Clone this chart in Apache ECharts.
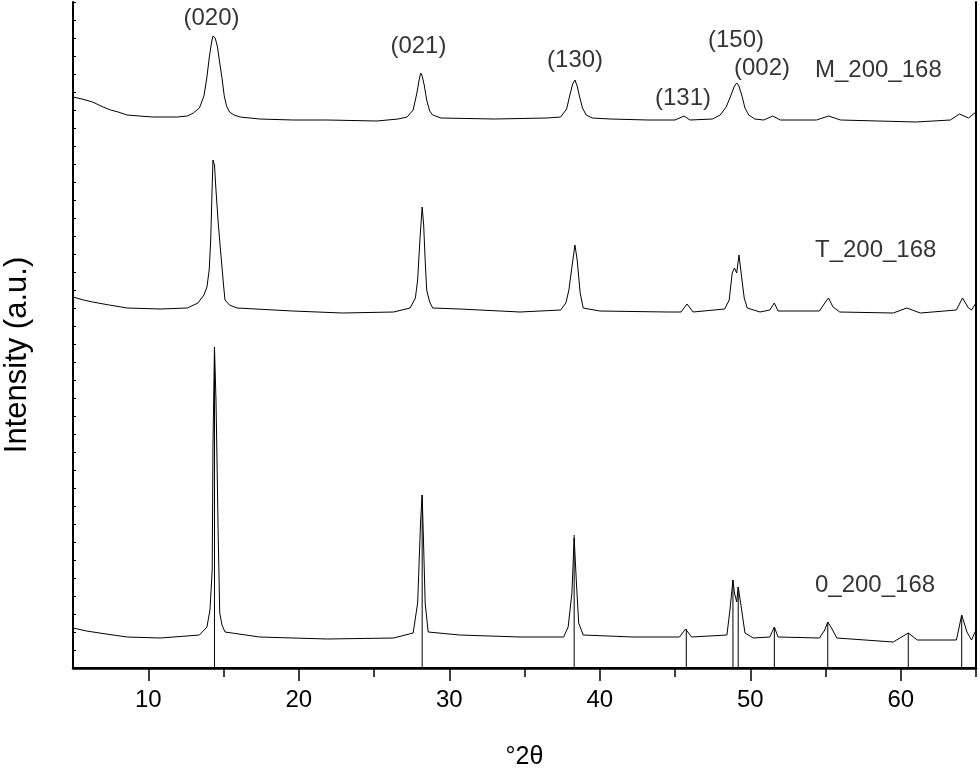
<!DOCTYPE html>
<html>
<head>
<meta charset="utf-8">
<script src="https://cdn.jsdelivr.net/npm/echarts@6/dist/echarts.min.js"></script>
<style>
html,body{margin:0;padding:0;background:#fff;}
#chart{width:980px;height:771px;}
</style>
</head>
<body>
<div id="chart"></div>
<script>
// x ticks (°2θ)
const xTickLabels = [10, 20, 30, 40, 50, 60];
const xMinorTicks = [15, 25, 35, 45, 55, 65];

// M_200_168 trace (top, offset intensity, a.u.)
const traceM = [
  [5.0,571],[5.6,569],[6.3,566],[7.0,561],[7.5,558],[8.0,556],[8.6,553],[9.4,552],[10.3,551],[11.9,551],[12.6,552],[13.0,555],[13.4,560],[13.7,572],[13.9,591],
  [14.05,610],[14.2,625],[14.3,632],[14.37,633],[14.45,630],[14.6,621],[14.75,605],[14.9,590],[15.05,572],[15.2,562],
  [15.4,556],[15.7,553],[16.1,551],[17.4,549],[19.6,548],[21.9,548],[25.2,547],[26.6,549],[27.2,551],[27.6,558],[27.85,575],
  [28.0,588],[28.1,595],[28.2,592],[28.35,582],[28.5,568],[28.7,557],[28.9,553],[29.45,550],[33.0,549],[36.5,550],[37.4,551],
  [37.8,559],[38.0,572],[38.2,584],[38.35,588],[38.5,582],[38.65,572],[38.85,560],[39.1,553],[39.5,550],[40.7,549],
  [43.2,548],[45.0,548],[45.6,552],[46.0,548],[47.5,549],[48.0,553],[48.4,561],[48.7,572],[48.95,582],[49.1,585],
  [49.25,582],[49.45,572],[49.65,560],[49.9,553],[50.3,549],[50.9,548],[51.5,552],[52.0,548],[54.4,548],[55.2,552],
  [56.0,548],[58.5,547],[61.0,546],[63.3,548],[63.9,554],[64.5,550],[65.0,556]
];

// T_200_168 trace (middle)
const traceT = [
  [5.0,371],[5.7,368],[6.3,366],[7.4,363],[8.6,360],[10.8,359],[12.6,360],[13.3,365],[13.7,373],[13.9,381],[14.05,398],[14.15,428],
  [14.25,483],[14.3,508],[14.4,503],[14.5,478],[14.65,445],[14.8,418],[14.9,401],[15.0,383],[15.1,368],[15.4,363],
  [15.9,360],[19.6,357],[22.9,355],[26.3,356],[27.4,360],[27.75,370],[27.9,388],[28.05,428],[28.2,461],[28.3,443],
  [28.4,408],[28.5,378],[28.7,366],[28.9,360],[30.7,359],[34.7,356],[37.4,358],[37.75,365],[37.95,378],[38.15,401],
  [38.35,423],[38.5,408],[38.7,375],[38.9,360],[40.0,357],[44.5,356],[45.4,356],[45.8,364],[46.2,356],[48.3,359],
  [48.6,368],[48.8,395],[48.95,400],[49.1,395],[49.25,413],[49.45,388],[49.6,370],[49.8,360],[50.65,356],[51.3,358],
  [51.6,365],[51.85,357],[54.6,357],[54.95,365],[55.2,370],[55.5,361],[55.95,356],[59.5,355],[60.4,360],[61.3,355],
  [63.7,358],[64.1,370],[64.5,360],[64.7,358],[65.0,365]
];

// 0_200_168 trace (bottom)
const trace0 = [
  [5.0,40],[5.9,37],[7.2,34],[8.6,31],[10.8,30],[13.4,33],[13.9,41],[14.1,58],[14.25,98],[14.3,221],[14.4,321],
  [14.5,268],[14.55,225],[14.65,131],[14.75,55],[14.9,43],[15.1,36],[17.4,31],[21.9,29],[26.3,30],[27.6,35],
  [27.9,65],[28.1,148],[28.2,173],[28.3,121],[28.4,65],[28.6,36],[30.7,33],[34.7,31],[37.6,31],[37.9,41],
  [38.15,75],[38.3,130],[38.45,85],[38.6,45],[38.9,33],[42.2,31],[45.3,31],[45.7,39],[46.1,31],[48.45,33],
  [48.65,58],[48.85,88],[48.95,75],[49.1,66],[49.2,81],[49.4,61],[49.65,35],[50.2,30],[51.3,31],[51.6,41],
  [51.85,31],[54.6,30],[54.95,38],[55.15,46],[55.4,40],[55.75,30],[59.5,26],[60.5,35],[61.1,28],[63.7,28],
  [64.05,53],[64.4,36],[64.7,28],[65.0,38]
];

// reference pattern sticks [2θ, height]
const refSticks = [
  [14.4,321],[28.2,173],[38.3,133],[45.75,39],[48.85,88],[49.2,81],[51.6,41],[55.15,46],[60.5,35],[64.05,53]
];

// peak indices [2θ, y, text]
const peakLabels = [
  [14.2,650,'(020)'],[27.95,622,'(021)'],[38.36,608,'(130)'],[45.53,570,'(131)'],[49.05,628,'(150)'],[50.78,600,'(002)']
];
// sample names [2θ, y, text]
const sampleLabels = [
  [54.3,598,'M_200_168'],[54.3,418,'T_200_168'],[54.3,83,'0_200_168']
];

const FONT = "'Liberation Sans', Arial, sans-serif";
const chart = echarts.init(document.getElementById('chart'), null, {renderer:'canvas'});

const lineStyle = {color:'#000', width:1};
function traceSeries(data){
  return {type:'line', data:data, symbol:'none', smooth:false, lineStyle:lineStyle, silent:true, z:3};
}

chart.setOption({
  animation:false,
  backgroundColor:'#fff',
  grid:{left:73, right:4, top:2, bottom:103, containLabel:false, outerBoundsMode:'none'},
  xAxis:[
    {
      type:'value', min:5, max:65, interval:5, position:'bottom',
      name:'°2θ', nameLocation:'middle', nameGap:77,
      nameTextStyle:{fontFamily:FONT, fontSize:25, color:'#000'},
      axisLine:{show:true, onZero:false, lineStyle:{color:'#000', width:2.5}},
      axisTick:{show:true, customValues:xTickLabels, length:13, inside:false, lineStyle:{color:'#000', width:1.5}},
      axisLabel:{show:true, customValues:xTickLabels, margin:20, fontFamily:FONT, fontSize:24, color:'#000'},
      splitLine:{show:false}
    },
    {
      type:'value', min:5, max:65, interval:5, position:'bottom', gridIndex:0,
      axisLine:{show:false},
      axisTick:{show:true, customValues:xMinorTicks, length:9, lineStyle:{color:'#000', width:1.5}},
      axisLabel:{show:false}, splitLine:{show:false}
    },
    {
      type:'value', min:5, max:65, position:'top',
      axisLine:{show:true, lineStyle:{color:'#000', width:2}},
      axisTick:{show:false}, axisLabel:{show:false}, splitLine:{show:false}
    }
  ],
  yAxis:[
    {
      type:'value', min:0, max:666, interval:18, position:'left',
      name:'Intensity (a.u.)', nameLocation:'middle', nameGap:40, nameRotate:90,
      nameTextStyle:{fontFamily:FONT, fontSize:31, color:'#000', padding:[0, 40, 0, 0]},
      axisLine:{show:true, onZero:false, lineStyle:{color:'#000', width:2}},
      axisTick:{show:true, inside:true, length:3, lineStyle:{color:'#000', width:1}},
      axisLabel:{show:false}, splitLine:{show:false}
    },
    {
      type:'value', min:0, max:666, position:'right',
      axisLine:{show:true, onZero:false, lineStyle:{color:'#000', width:2}},
      axisTick:{show:false}, axisLabel:{show:false}, splitLine:{show:false}
    }
  ],
  series:[
    traceSeries(traceM),
    traceSeries(traceT),
    traceSeries(trace0),
    {
      type:'custom', data:refSticks, silent:true, z:2,
      renderItem:function(params, api){
        const p0 = api.coord([api.value(0), 0]);
        const p1 = api.coord([api.value(0), api.value(1)]);
        return {type:'line', shape:{x1:p0[0], y1:p0[1], x2:p1[0], y2:p1[1]},
                style:{stroke:'#000', lineWidth:1}};
      }
    },
    {
      type:'scatter', symbolSize:0, silent:true, z:5,
      data:peakLabels.map(d => ({value:[d[0], d[1]], name:d[2]})),
      label:{show:true, position:'inside', formatter:p => p.name,
             fontFamily:FONT, fontSize:24, color:'#000'}
    },
    {
      type:'scatter', symbolSize:0, silent:true, z:5,
      data:sampleLabels.map(d => ({value:[d[0], d[1]], name:d[2]})),
      label:{show:true, position:'right', distance:0, formatter:p => p.name,
             fontFamily:FONT, fontSize:24, color:'#000'}
    }
  ]
});
</script>
</body>
</html>
